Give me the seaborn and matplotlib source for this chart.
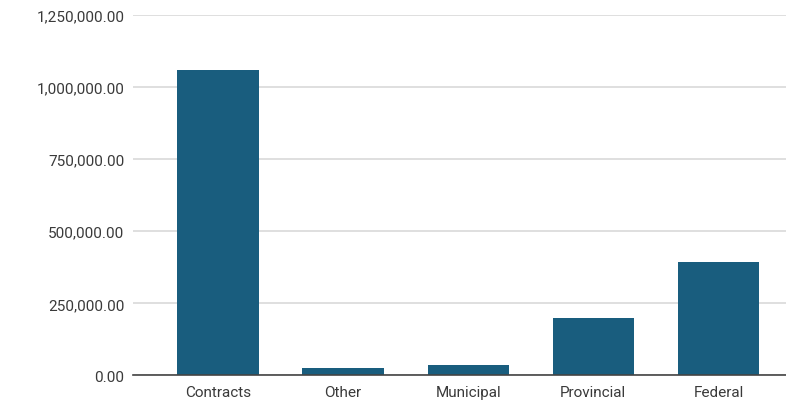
import matplotlib
matplotlib.use("Agg")
import matplotlib.pyplot as plt
import seaborn as sns
import pandas as pd
from matplotlib.ticker import FuncFormatter, MultipleLocator

categories = ["Contracts", "Other", "Municipal", "Provincial", "Federal"]
values = [1060000, 26000, 36000, 198000, 395000]

df = pd.DataFrame({"category": categories, "value": values})

sns.set_theme(style="white")
plt.rcParams["font.family"] = ["Roboto", "DejaVu Sans"]

fig = plt.figure(figsize=(7.86, 4.06), dpi=100)
ax = fig.add_axes([0.169, 0.0727, 0.831, 0.888])

sns.barplot(data=df, x="category", y="value", color="#195d7e", width=0.65,
            saturation=1, linewidth=0, ax=ax, zorder=3)

ax.set_ylim(0, 1250000)
ax.set_xlim(-0.68, 4.54)
ax.yaxis.set_major_locator(MultipleLocator(250000))
ax.yaxis.set_major_formatter(FuncFormatter(lambda v, p: f"{v:,.2f}"))
ax.grid(axis="y", color="#d9d9d9", linewidth=1.2, zorder=0)
ax.set_axisbelow(True)
for s in ["top", "right", "left"]:
    ax.spines[s].set_visible(False)
ax.spines["bottom"].set_color("#444444")
ax.spines["bottom"].set_linewidth(1.2)
ax.spines["bottom"].set_zorder(4)
ax.set_xlabel("")
ax.set_ylabel("")
ax.tick_params(axis="y", length=0, pad=6, labelsize=11, labelcolor="#3a3a3a")
ax.tick_params(axis="x", length=0, pad=7, labelsize=11, labelcolor="#3a3a3a")

fig.savefig("out.png", dpi=100)
